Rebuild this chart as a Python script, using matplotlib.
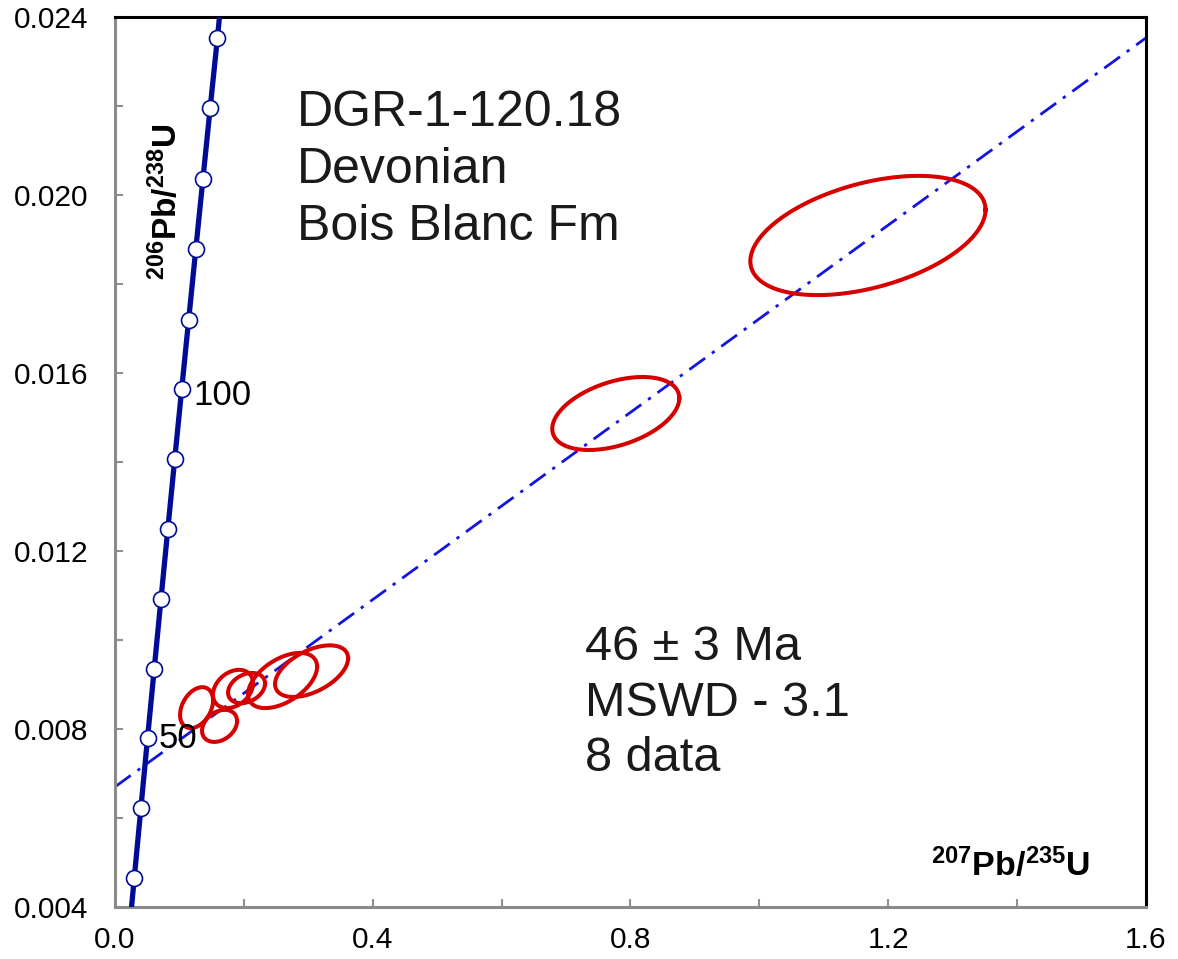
# %% Imports

import numpy as np
import matplotlib
matplotlib.use("Agg")
import matplotlib.pyplot as plt

plt.rcParams['font.family'] = ['Liberation Sans', 'DejaVu Sans']
plt.rcParams['mathtext.fontset'] = 'custom'
plt.rcParams['mathtext.rm'] = 'Liberation Sans'
plt.rcParams['mathtext.bf'] = 'Liberation Sans:bold'

# %% Data

# concordia marker points, 30-150 Ma every 10 Ma
conc_age = [30, 40, 50, 60, 70, 80, 90, 100, 110, 120, 130, 140, 150]
conc_x = [0.0300, 0.0402, 0.0505, 0.0609, 0.0714, 0.0820, 0.0927,
          0.1035, 0.1144, 0.1254, 0.1365, 0.1477, 0.1590]
conc_y = [0.00466, 0.00622, 0.00779, 0.00935, 0.01092, 0.01249, 0.01406,
          0.01563, 0.01720, 0.01878, 0.02036, 0.02195, 0.02353]
# concordia curve incl. ends at the frame
curve_x = [0.0257] + conc_x + [0.1622]
curve_y = [0.0040] + conc_y + [0.0240]

# discordia (dash-dot regression line)
disc_x = [0.0, 1.6]
disc_y = [0.00670, 0.02353]

# error ellipses: centre x, centre y, half-width x, half-height y, rho
ell_cx = [0.1266, 0.1623, 0.1832, 0.2042, 0.2601, 0.3051, 0.7772, 1.1685]
ell_cy = [0.00848, 0.00807, 0.00890, 0.00892, 0.00909, 0.00930, 0.01509, 0.01909]
ell_sx = [0.0256, 0.0272, 0.0311, 0.0287, 0.0536, 0.0567, 0.0986, 0.1825]
ell_sy = [0.00046, 0.00036, 0.00043, 0.00034, 0.00062, 0.00058, 0.00082, 0.00134]
ell_rho = [0.35, 0.30, 0.30, 0.30, 0.50, 0.50, 0.42, 0.43]

x_ticks = [0.0, 0.2, 0.4, 0.6, 0.8, 1.0, 1.2, 1.4, 1.6]
x_labels = ['0.0', '', '0.4', '', '0.8', '', '1.2', '', '1.6']
y_ticks = [0.004, 0.006, 0.008, 0.010, 0.012, 0.014, 0.016, 0.018, 0.020, 0.022, 0.024]
y_labels = ['0.004', '', '0.008', '', '0.012', '', '0.016', '', '0.020', '', '0.024']

# %% Plot

fig = plt.figure(figsize=(11.78, 9.59), dpi=100)
ax = fig.add_axes([0.0976, 0.0542, 0.8752, 0.9281])

# discordia
ax.plot(disc_x, disc_y, color='#1414e0', lw=2, dashes=[7, 3, 1.2, 3])

# ellipses
t = np.linspace(0, 2 * np.pi, 200)
for cx, cy, sx, sy, r in zip(ell_cx, ell_cy, ell_sx, ell_sy, ell_rho):
    ex = cx + sx * np.cos(t)
    ey = cy + sy * (r * np.cos(t) + np.sqrt(1 - r ** 2) * np.sin(t))
    ax.plot(ex, ey, color='#d60000', lw=2.9)

# concordia
ax.plot(curve_x, curve_y, color='#000c96', lw=3.8, zorder=4)
ax.plot(conc_x, conc_y, ls='none', marker='o', ms=11.5, mfc='white',
        mec='#000c96', mew=1.2, zorder=5)

ax.text(0.1035 + 0.018, 0.01550, '100', fontsize=25, va='center', ha='left')
ax.text(0.0505 + 0.017, 0.00779, '50', fontsize=25, va='center', ha='left')

# annotation texts
ax.text(0.282, 0.02056, 'DGR-1-120.18\nDevonian\nBois Blanc Fm', fontsize=36,
        va='center', ha='left', linespacing=1.3, color='#1a1a1a')
ax.text(0.730, 0.00858, '46 \u00b1 3 Ma\nMSWD - 3.1\n8 data', fontsize=35,
        va='center', ha='left', linespacing=1.3, color='#1a1a1a')

# axis labels inside the frame
ax.text(0.079, 0.01985, r'$\mathbf{^{206}Pb/^{238}U}$', fontsize=24,
        rotation=90, ha='center', va='center')
ax.text(1.390, 0.00494, r'$\mathbf{^{207}Pb/^{235}U}$', fontsize=24.5,
        ha='center', va='center')

# Making things pretty
ax.set_xlim(0, 1.6)
ax.set_ylim(0.004, 0.024)
ax.set_xticks(x_ticks)
ax.set_xticklabels(x_labels)
ax.set_yticks(y_ticks)
ax.set_yticklabels(y_labels)
ax.tick_params(direction='in', length=6, width=1.5, color='#909090',
               labelsize=21.5)
ax.tick_params(axis='y', pad=19)
ax.tick_params(axis='x', pad=14)
for side in ['left', 'bottom']:
    ax.spines[side].set_color('#8a8a8a')
    ax.spines[side].set_linewidth(2.2)
for side in ['top', 'right']:
    ax.spines[side].set_color('black')
    ax.spines[side].set_linewidth(2.2)

plt.savefig('out.png', dpi=100)
